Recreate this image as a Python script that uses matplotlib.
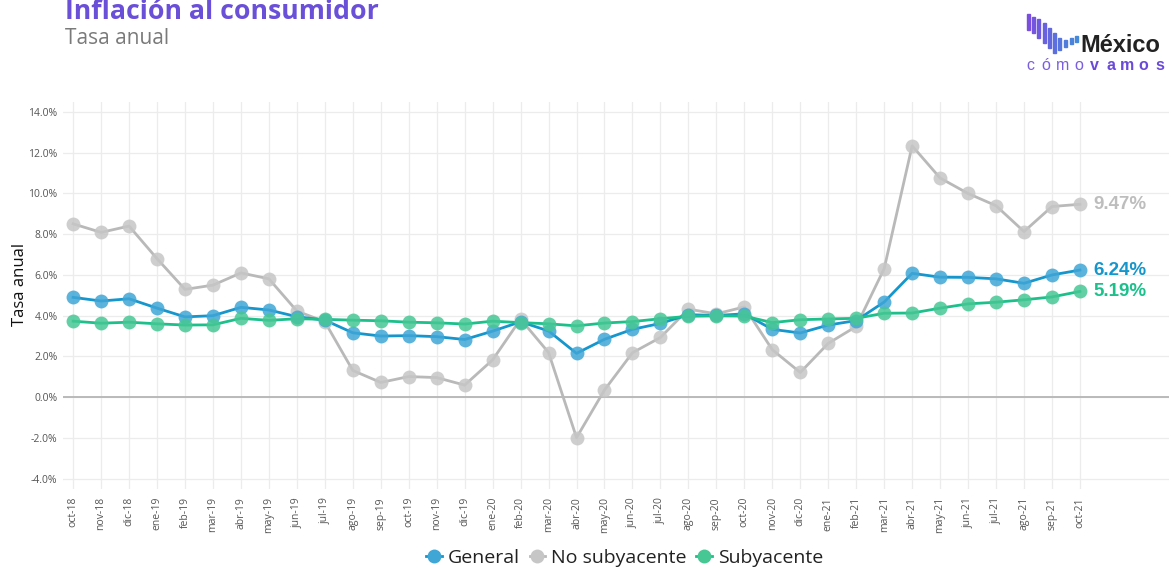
import matplotlib
matplotlib.use("Agg")
import matplotlib.pyplot as plt
from matplotlib.lines import Line2D
from matplotlib.patches import Rectangle

months = ["oct-18", "nov-18", "dic-18", "ene-19", "feb-19", "mar-19", "abr-19", "may-19",
          "jun-19", "jul-19", "ago-19", "sep-19", "oct-19", "nov-19", "dic-19", "ene-20",
          "feb-20", "mar-20", "abr-20", "may-20", "jun-20", "jul-20", "ago-20", "sep-20",
          "oct-20", "nov-20", "dic-20", "ene-21", "feb-21", "mar-21", "abr-21", "may-21",
          "jun-21", "jul-21", "ago-21", "sep-21", "oct-21"]

general = [4.90, 4.72, 4.83, 4.37, 3.94, 4.00, 4.41, 4.28, 3.95, 3.78, 3.16, 3.00, 3.02,
           2.97, 2.83, 3.24, 3.70, 3.25, 2.15, 2.84, 3.33, 3.62, 4.05, 4.01, 4.09, 3.33,
           3.15, 3.54, 3.76, 4.67, 6.08, 5.89, 5.88, 5.81, 5.59, 6.00, 6.24]

no_subyacente = [8.51, 8.09, 8.40, 6.80, 5.29, 5.50, 6.10, 5.81, 4.23, 3.70, 1.31, 0.72,
                 1.01, 0.96, 0.59, 1.83, 3.83, 2.19, -1.99, 0.35, 2.18, 2.93, 4.32, 4.09,
                 4.43, 2.33, 1.21, 2.64, 3.47, 6.31, 12.34, 10.76, 10.00, 9.40, 8.13, 9.36,
                 9.47]

subyacente = [3.73, 3.63, 3.68, 3.60, 3.54, 3.55, 3.87, 3.77, 3.85, 3.82, 3.78, 3.75, 3.68,
              3.65, 3.59, 3.73, 3.66, 3.60, 3.50, 3.64, 3.71, 3.85, 3.97, 3.99, 3.98, 3.66,
              3.80, 3.84, 3.87, 4.12, 4.13, 4.37, 4.58, 4.66, 4.78, 4.92, 5.19]

y_ticks = [-4, -2, 0, 2, 4, 6, 8, 10, 12, 14]

series = [
    ("No subyacente", no_subyacente, "#b9b9b9", "#c6c6c6"),
    ("General", general, "#1596cc", "#3fa6d6"),
    ("Subyacente", subyacente, "#1cc08b", "#46c794"),
]

plt.rcParams['font.family'] = ['Open Sans', 'DejaVu Sans']

fig = plt.figure(figsize=(11.72, 5.69), dpi=100)
ax = fig.add_axes([0.0538, 0.141, 0.944, 0.680])

x = list(range(len(months)))
for name, vals, lc, mc in series:
    ax.plot(x, vals, color=lc, lw=2.0, zorder=3)
    ax.plot(x, vals, ls='none', marker='o', ms=10, color=mc, alpha=0.85,
            markeredgewidth=0, zorder=4)

ax.axhline(0, color='#b5b5b5', lw=1.3, zorder=2)

ax.set_xlim(-0.36, 39.2)
ax.set_ylim(-4.5, 14.5)
ax.set_yticks(y_ticks)
ax.set_yticklabels([f"{v:.1f}%" for v in y_ticks])
ax.set_xticks(x)
ax.set_xticklabels(months, rotation=90)
ax.tick_params(axis='both', length=0, labelsize=7.5, labelcolor='#555555')
ax.tick_params(axis='x', pad=6)
ax.tick_params(axis='y', pad=4)
ax.grid(True, color='#ececec', lw=0.9, zorder=0)
for s in ax.spines.values():
    s.set_visible(False)
ax.set_ylabel("Tasa anual", fontsize=12, color='#111111')
ax.yaxis.set_label_coords(-0.0316, 0.527)

# end labels
end_labels = [(no_subyacente[-1], "#bdbdbd"), (general[-1], "#1596cc"), (subyacente[-1], "#1cc08b")]
for v, c in end_labels:
    ax.annotate(f"{v:.2f}%", xy=(x[-1], v), xytext=(10, 0), textcoords='offset points',
                va='center', ha='left', fontsize=13.5, fontweight='bold', color=c,
                family=['Liberation Sans', 'DejaVu Sans'])

# titles
fig.text(0.0555, 1 - 19 / 569, "Inflación al consumidor", fontsize=19.2, fontweight='bold',
         color='#6a50d8', va='baseline', ha='left')
fig.text(0.0555, 0.933, "Tasa anual", fontsize=15, color='#7a7a7a', va='center', ha='left')

# logo
bar_x = [1027, 1032, 1037, 1043, 1048, 1053, 1058, 1064, 1070, 1075]
bar_top = [14, 17, 19, 23, 28, 33, 38, 40, 38, 36]
bar_bot = [30, 33, 38, 43, 48, 53, 50, 47, 44, 42]
bar_cols = ["#7a4fe0", "#7554e0", "#6f5adf", "#6960df", "#6367de", "#5d6ede",
            "#5675dd", "#507cdc", "#4a83db", "#4589da"]
for bx, bt, bb, bc in zip(bar_x, bar_top, bar_bot, bar_cols):
    fig.patches.append(Rectangle((bx / 1172, 1 - bb / 569), 3 / 1172, (bb - bt) / 569,
                                 transform=fig.transFigure, color=bc))
fig.text(1080 / 1172, 1 - 52 / 569, "México", fontsize=17, fontweight='bold', color='#222222',
         va='baseline', ha='left', family=['Liberation Sans', 'DejaVu Sans'])
logo_letters = list("cómovamos")
for i, ch in enumerate(logo_letters):
    bold = i >= 4
    fig.text((1030 + 16.2 * i) / 1172, 1 - 70 / 569, ch, fontsize=11.5,
             fontweight='bold' if bold else 'normal',
             color='#6a4ad8' if bold else '#7a5ee0', va='baseline', ha='center',
             family=['Liberation Sans', 'DejaVu Sans'])

# legend
handles = [Line2D([0], [0], color=lc, lw=2, marker='o', ms=10, markerfacecolor=mc,
                  markeredgewidth=0)
           for name, vals, lc, mc in [series[1], series[0], series[2]]]
labels = ["General", "No subyacente", "Subyacente"]
fig.legend(handles, labels, loc='center', bbox_to_anchor=(0.533, 0.019), ncol=3,
           frameon=False, fontsize=14, handlelength=0.8, handletextpad=0.3,
           columnspacing=0.5, labelcolor='#222222')

fig.savefig("out.png", dpi=100)
